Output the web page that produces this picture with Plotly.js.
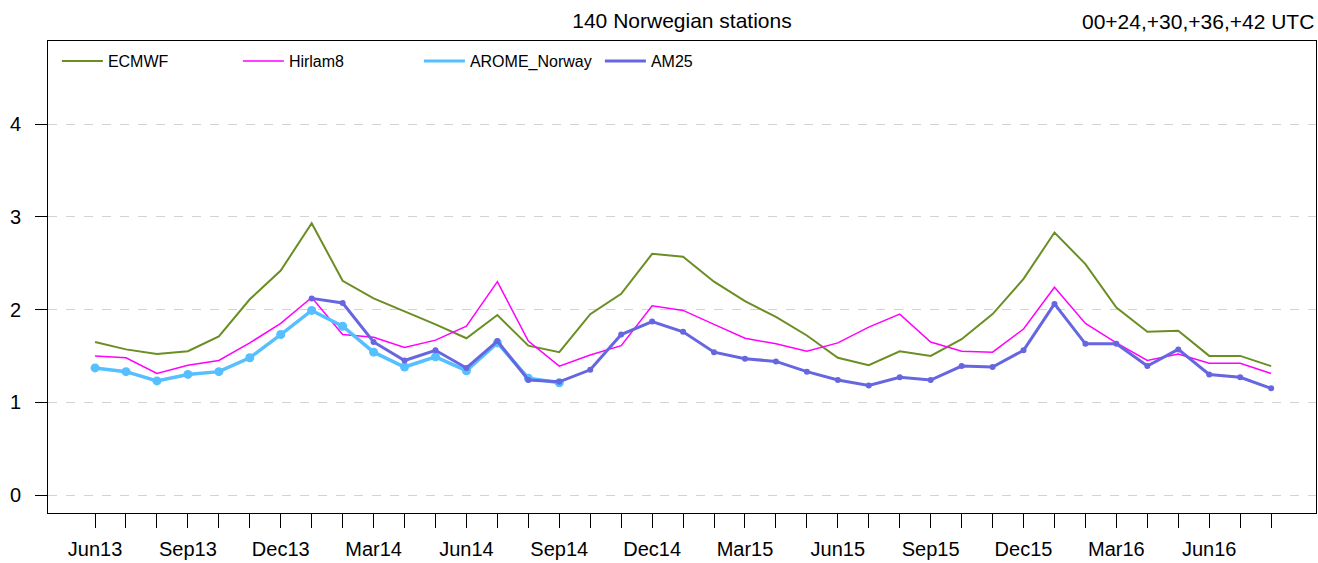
<!DOCTYPE html>
<html>
<head>
<meta charset="utf-8">
<script src="https://cdn.plot.ly/plotly-3.0.1.min.js"></script>
<style>html,body{margin:0;padding:0;background:#fff;}#chart{width:1318px;height:563px;}</style>
</head>
<body>
<div id="chart"></div>
<script>
const months = ["Jun13","Jul13","Aug13","Sep13","Oct13","Nov13","Dec13","Jan14","Feb14","Mar14","Apr14","May14","Jun14","Jul14","Aug14","Sep14","Oct14","Nov14","Dec14","Jan15","Feb15","Mar15","Apr15","May15","Jun15","Jul15","Aug15","Sep15","Oct15","Nov15","Dec15","Jan16","Feb16","Mar16","Apr16","May16","Jun16","Jul16","Aug16"];
const ecmwf = [1.65,1.57,1.52,1.55,1.71,2.11,2.42,2.93,2.31,2.12,1.98,1.84,1.69,1.94,1.61,1.54,1.95,2.17,2.60,2.57,2.30,2.09,1.92,1.72,1.48,1.40,1.55,1.50,1.68,1.95,2.33,2.83,2.49,2.02,1.76,1.77,1.50,1.50,1.39];
const hirlam8 = [1.50,1.48,1.31,1.40,1.45,1.64,1.85,2.13,1.73,1.70,1.59,1.67,1.82,2.30,1.66,1.39,1.51,1.61,2.04,1.99,1.84,1.69,1.63,1.55,1.64,1.81,1.95,1.65,1.55,1.54,1.79,2.24,1.85,1.64,1.45,1.52,1.42,1.42,1.31];
const aromeNorway = [1.37,1.33,1.23,1.30,1.33,1.48,1.73,1.99,1.82,1.54,1.38,1.49,1.34,1.64,1.26,1.21];
const am25 = [2.12,2.07,1.65,1.45,1.56,1.37,1.66,1.24,1.22,1.35,1.73,1.87,1.76,1.54,1.47,1.44,1.33,1.24,1.18,1.27,1.24,1.39,1.38,1.56,2.06,1.63,1.63,1.39,1.57,1.30,1.27,1.15];
const am25Start = 7;
const tickLabels = months.map((m, i) => (i % 3 === 0 ? m : ""));
const yTicks = [0, 1, 2, 3, 4];

const font = "Liberation Sans, Arial, sans-serif";
const C = {ecmwf: "#6B8E23", hirlam: "#FF00FF", arome: "#55BFFF", am25: "#6666E0"};

const traces = [
  {x: months, y: ecmwf, name: "ECMWF", type: "scatter", mode: "lines",
   line: {color: C.ecmwf, width: 2}},
  {x: months, y: hirlam8, name: "Hirlam8", type: "scatter", mode: "lines",
   line: {color: C.hirlam, width: 1.5}},
  // legend-only entries (line symbol without markers, as in the reference legend)
  {x: [null], y: [null], name: "AROME_Norway", type: "scatter", mode: "lines",
   line: {color: C.arome, width: 3}},
  {x: [null], y: [null], name: "AM25", type: "scatter", mode: "lines",
   line: {color: C.am25, width: 3}},
  {x: months.slice(0, aromeNorway.length), y: aromeNorway, name: "AROME_Norway", type: "scatter", mode: "lines+markers",
   showlegend: false, line: {color: C.arome, width: 3.5}, marker: {color: C.arome, size: 9}},
  {x: months.slice(am25Start, am25Start + am25.length), y: am25, name: "AM25", type: "scatter", mode: "lines+markers",
   showlegend: false, line: {color: C.am25, width: 3}, marker: {color: C.am25, size: 6}}
];

const layout = {
  width: 1318, height: 563,
  margin: {l: 48, r: 2, t: 41, b: 50, pad: 0},
  paper_bgcolor: "#fff", plot_bgcolor: "#fff",
  font: {family: font, color: "#000", size: 20},
  showlegend: true,
  title: {text: "140 Norwegian stations", font: {family: font, size: 21, color: "#000"},
          x: 0.5, xref: "paper", xanchor: "center", y: 1 - 21/563, yref: "container", yanchor: "middle"},
  xaxis: {
    type: "category", range: [-1.52, 39.45],
    tickmode: "array", tickvals: months, ticktext: tickLabels,
    ticks: "outside", ticklen: 14, tickwidth: 1, tickcolor: "#000",
    ticklabelstandoff: 4,
    tickfont: {family: font, size: 20, color: "#000"},
    showgrid: false, zeroline: false,
    showline: true, linecolor: "#000", linewidth: 1, mirror: true
  },
  yaxis: {
    range: [-0.194, 4.895],
    tickmode: "array", tickvals: yTicks, ticktext: yTicks.map(String),
    ticks: "outside", ticklen: 12, tickwidth: 1, tickcolor: "#000",
    ticklabelstandoff: 10,
    tickfont: {family: font, size: 20, color: "#000"},
    showgrid: true, gridcolor: "#D3D3D3", griddash: "dash", gridwidth: 1,
    zeroline: false,
    showline: true, linecolor: "#000", linewidth: 1, mirror: true
  },
  legend: {
    orientation: "h", x: 0.007, xanchor: "left", y: 0.9935, yanchor: "top",
    bgcolor: "rgba(0,0,0,0)", borderwidth: 0,
    font: {family: font, size: 16, color: "#000"},
    itemwidth: 41, entrywidth: 125, entrywidthmode: "pixels",
    traceorder: "normal"
  },
  annotations: [
    {text: "00+24,+30,+36,+42 UTC", xref: "paper", yref: "paper", x: 1, y: 1 + 20/472,
     xanchor: "right", yanchor: "middle", showarrow: false,
     font: {family: font, size: 21, color: "#000"}}
  ]
};

Plotly.newPlot("chart", traces, layout, {displayModeBar: false, staticPlot: true});
</script>
</body>
</html>
